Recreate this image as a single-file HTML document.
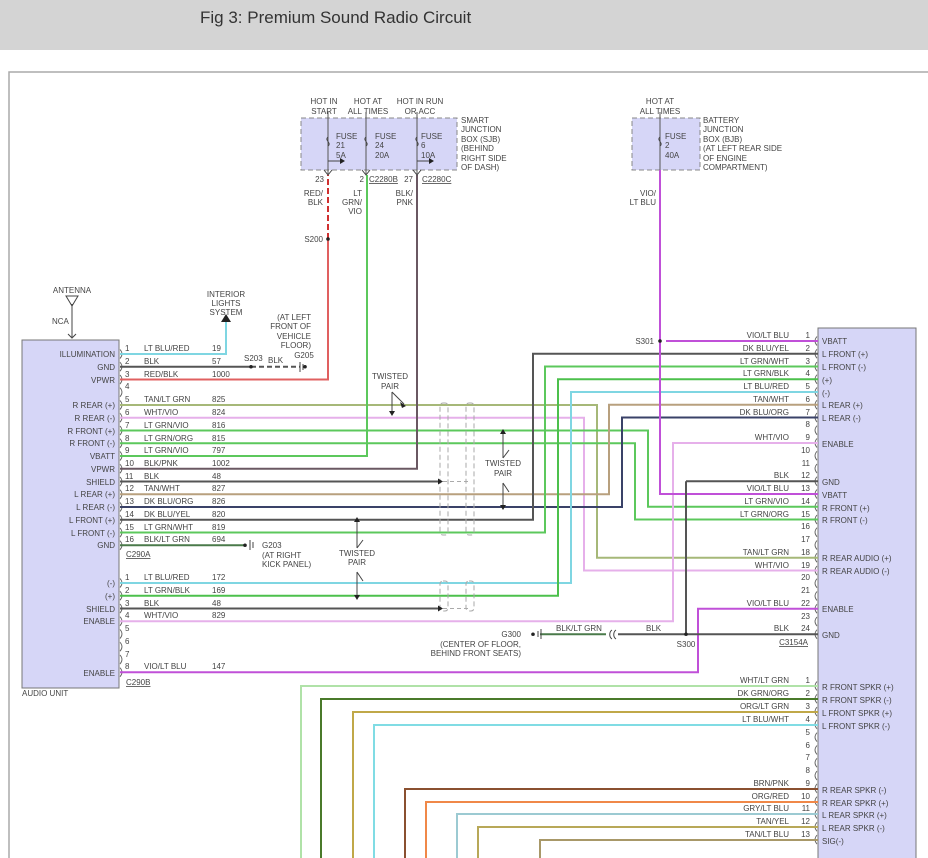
<!DOCTYPE html>
<html><head><meta charset="utf-8"><style>
html,body{margin:0;padding:0;background:#fff;}
body{width:928px;height:858px;overflow:hidden;position:relative;}
.hdr{position:absolute;left:0;top:0;width:928px;height:50px;background:#d4d4d4;}
.hdr span{position:absolute;left:200px;top:8px;font:17px "Liberation Sans",sans-serif;color:#333;}
svg{position:absolute;left:0;top:0;}
text{font-family:"Liberation Sans",sans-serif;font-size:8px;fill:#444;}
</style></head><body>
<div class="hdr"><span>Fig 3: Premium Sound Radio Circuit</span></div>
<svg width="928" height="858" viewBox="0 0 928 858">
<defs>
<pattern id="pl" patternUnits="userSpaceOnUse" x="119" y="348" width="6" height="12.75"><path d="M1,1.5q4,4.5 0,9" fill="none" stroke="#555" stroke-width="0.8"/></pattern>
<pattern id="pl2" patternUnits="userSpaceOnUse" x="119" y="577" width="6" height="12.75"><path d="M1,1.5q4,4.5 0,9" fill="none" stroke="#555" stroke-width="0.8"/></pattern>
<pattern id="pr" patternUnits="userSpaceOnUse" x="812" y="335" width="6" height="12.75"><path d="M5,1.5q-4,4.5 0,9" fill="none" stroke="#555" stroke-width="0.8"/></pattern>
<pattern id="pr2" patternUnits="userSpaceOnUse" x="812" y="680" width="6" height="12.8"><path d="M5,1.5q-4,4.5 0,9" fill="none" stroke="#555" stroke-width="0.8"/></pattern>
</defs>
<!-- frame -->
<path d="M9,858 V72 H928" fill="none" stroke="#aaa" stroke-width="1.5"/>
<!-- boxes -->
<rect x="22" y="340" width="97" height="348" fill="#d6d6f7" stroke="#777" stroke-width="1"/>
<rect x="818" y="328" width="98" height="540" fill="#d6d6f7" stroke="#777" stroke-width="1"/>
<rect x="301" y="118" width="156" height="52" fill="#d6d6f7" stroke="#888" stroke-dasharray="5,3"/>
<rect x="632" y="118" width="68" height="52" fill="#d6d6f7" stroke="#888" stroke-dasharray="5,3"/>
<rect x="119" y="348" width="6" height="204" fill="url(#pl)"/>
<rect x="119" y="577" width="6" height="102" fill="url(#pl2)"/>
<rect x="812" y="335" width="6" height="306" fill="url(#pr)"/>
<rect x="812" y="680" width="6" height="166" fill="url(#pr2)"/>

<g fill="none" stroke-width="2">
<path d="M120,354H226V322" stroke="#7fd6e2"/>
<path d="M120,366.75H251" stroke="#555"/>
<path d="M251,366.75H300" stroke="#555" stroke-dasharray="5,3"/>
<path d="M120,379.5H328V239" stroke="#e06060"/>
<path d="M328,239V175" stroke="#d03030" stroke-dasharray="6,3"/>
<path d="M120,405H597V557.75H818" stroke="#a6b878"/>
<path d="M120,417.75H584V570.5H818" stroke="#e6b0ea"/>
<path d="M120,430.5H648V506.75H818" stroke="#5cc85c"/>
<path d="M120,443.25H635V519.5H818" stroke="#5cc85c"/>
<path d="M120,456H367V175" stroke="#5cc85c"/>
<path d="M120,468.75H417V175" stroke="#6a5862"/>
<path d="M120,481.5H438" stroke="#555"/>
<path d="M120,494.25H609V404.75H818" stroke="#b8a07e"/>
<path d="M120,507H622V417.5H818" stroke="#3a4268"/>
<path d="M120,519.75H533V353.75H818" stroke="#555"/>
<path d="M120,532.5H545V366.5H818" stroke="#5cc85c"/>
<path d="M120,545.25H245" stroke="#4a7a4a"/>
<path d="M120,583H571V392H818" stroke="#7fd6e2"/>
<path d="M120,595.75H558V379.25H818" stroke="#4cc04c"/>
<path d="M120,608.5H438" stroke="#555"/>
<path d="M120,621.25H673V443H818" stroke="#e6b0ea"/>
<path d="M120,672.25H698V608.75H818" stroke="#c050d8"/>
<path d="M660,170V494H818" stroke="#c050d8"/>
<path d="M666,341H818" stroke="#c050d8"/>
<path d="M686,481.25H818M686,481.25V634.25H818M686,634.25H618" stroke="#555"/>
<path d="M606,634.25H540" stroke="#4a7a4a"/>
<path d="M301,858V686H818" stroke="#b0e2a8"/>
<path d="M321,858V699H818" stroke="#4a7a2a"/>
<path d="M353,858V712H818" stroke="#c0a848"/>
<path d="M374,858V725H818" stroke="#80dce4"/>
<path d="M405,858V789H818" stroke="#8a5030"/>
<path d="M426,858V802H818" stroke="#f08848"/>
<path d="M457,858V814H818" stroke="#9ccad2"/>
<path d="M478,858V827H818" stroke="#b8a858"/>
<path d="M540,858V840H818" stroke="#a89868"/>
<path d="M328,112V175M366,112V175M417,112V175M660,112V170" stroke="#555" stroke-width="1"/>
</g>
<g fill="none" stroke="#444" stroke-width="1">
<path d="M328,137c-4,3 4,6 0,9M366,137c-4,3 4,6 0,9M417,137c-4,3 4,6 0,9M660,137c-4,3 4,6 0,9"/>
<path d="M328,161H340M417,161H429"/>
<path d="M324,170l4,5l4,-5M362,170l4,5l4,-5M413,170l4,5l4,-5"/>
<path d="M72,304V337M68,334l4,4l4,-4"/>
<path d="M66,296H78L72,306Z"/>
<path d="M392,392V413M392,392l12,12M503,434V458M503,458l6,-8M503,483V505M503,483l6,9M357,522V548M357,548l6,-8M357,572V595M357,572l6,9"/>
<rect x="440" y="403" width="8" height="132" rx="3" stroke="#aaa" stroke-dasharray="5,3"/>
<rect x="466" y="403" width="8" height="132" rx="3" stroke="#aaa" stroke-dasharray="5,3"/>
<rect x="440" y="581" width="8" height="30" rx="3" stroke="#aaa" stroke-dasharray="5,3"/>
<rect x="466" y="581" width="8" height="30" rx="3" stroke="#aaa" stroke-dasharray="5,3"/>
<path d="M443,481.5H470M443,608.5H470" stroke="#aaa" stroke-dasharray="4,3"/>
<path d="M300,362V372M303,364V370M250,540V550M253,542V548M541,629V639M538,631V637"/>
<path d="M612,630c-3,2 -3,7 0,9M616,630c-3,2 -3,7 0,9"/>
</g>
<g fill="#222">
<polygon points="221,322 231,322 226,314"/>
<circle cx="328" cy="239" r="1.8"/><circle cx="251" cy="366.75" r="1.8"/><circle cx="660" cy="341" r="1.8"/><circle cx="686" cy="634.25" r="1.8"/>
<circle cx="305" cy="366.75" r="1.8"/><circle cx="245" cy="545.25" r="1.8"/><circle cx="533" cy="634.25" r="1.8"/>
<polygon points="340,158 345,161 340,164"/><polygon points="429,158 434,161 429,164"/>
<polygon points="438,478.5 443,481.5 438,484.5"/><polygon points="438,605.5 443,608.5 438,611.5"/>
<polygon points="389,411 395,411 392,416"/><polygon points="400,402 406,406 402,408"/>
<polygon points="500,434 506,434 503,429"/><polygon points="500,505 506,505 503,510"/>
<polygon points="354,522 360,522 357,517"/><polygon points="354,595 360,595 357,600"/>
</g>

<g>
<text x="72" y="293" text-anchor="middle">ANTENNA</text>
<text x="52" y="324">NCA</text>
<text x="226" y="297" text-anchor="middle">INTERIOR</text>
<text x="226" y="306" text-anchor="middle">LIGHTS</text>
<text x="226" y="315" text-anchor="middle">SYSTEM</text>
<text x="311" y="320" text-anchor="end">(AT LEFT</text>
<text x="311" y="329" text-anchor="end">FRONT OF</text>
<text x="311" y="339" text-anchor="end">VEHICLE</text>
<text x="311" y="348" text-anchor="end">FLOOR)</text>
<text x="304" y="358" text-anchor="middle">G205</text>
<text x="244" y="361">S203</text><text x="268" y="363">BLK</text>
<text x="324" y="104" text-anchor="middle">HOT IN</text><text x="324" y="114" text-anchor="middle">START</text>
<text x="368" y="104" text-anchor="middle">HOT AT</text><text x="368" y="114" text-anchor="middle">ALL TIMES</text>
<text x="420" y="104" text-anchor="middle">HOT IN RUN</text><text x="420" y="114" text-anchor="middle">OR ACC</text>
<text x="336" y="139">FUSE</text><text x="336" y="148">21</text><text x="336" y="158">5A</text>
<text x="375" y="139">FUSE</text><text x="375" y="148">24</text><text x="375" y="158">20A</text>
<text x="421" y="139">FUSE</text><text x="421" y="148">6</text><text x="421" y="158">10A</text>
<text x="461" y="123">SMART</text><text x="461" y="132">JUNCTION</text><text x="461" y="142">BOX (SJB)</text><text x="461" y="151">(BEHIND</text><text x="461" y="161">RIGHT SIDE</text><text x="461" y="170">OF DASH)</text>
<text x="324" y="182" text-anchor="end">23</text><text x="364" y="182" text-anchor="end">2</text><text x="369" y="182" text-decoration="underline">C2280B</text>
<text x="413" y="182" text-anchor="end">27</text><text x="422" y="182" text-decoration="underline">C2280C</text>
<text x="323" y="196" text-anchor="end">RED/</text><text x="323" y="205" text-anchor="end">BLK</text>
<text x="362" y="196" text-anchor="end">LT</text><text x="362" y="205" text-anchor="end">GRN/</text><text x="362" y="214" text-anchor="end">VIO</text>
<text x="413" y="196" text-anchor="end">BLK/</text><text x="413" y="205" text-anchor="end">PNK</text>
<text x="323" y="242" text-anchor="end">S200</text>
<text x="660" y="104" text-anchor="middle">HOT AT</text><text x="660" y="114" text-anchor="middle">ALL TIMES</text>
<text x="665" y="139">FUSE</text><text x="665" y="148">2</text><text x="665" y="158">40A</text>
<text x="703" y="123">BATTERY</text><text x="703" y="132">JUNCTION</text><text x="703" y="142">BOX (BJB)</text><text x="703" y="151">(AT LEFT REAR SIDE</text><text x="703" y="161">OF ENGINE</text><text x="703" y="170">COMPARTMENT)</text>
<text x="656" y="196" text-anchor="end">VIO/</text><text x="656" y="205" text-anchor="end">LT BLU</text>
<text x="654" y="344" text-anchor="end">S301</text>
<text x="390" y="379" text-anchor="middle">TWISTED</text><text x="390" y="389" text-anchor="middle">PAIR</text>
<text x="503" y="466" text-anchor="middle">TWISTED</text><text x="503" y="476" text-anchor="middle">PAIR</text>
<text x="357" y="556" text-anchor="middle">TWISTED</text><text x="357" y="565" text-anchor="middle">PAIR</text>
<text x="262" y="548">G203</text><text x="262" y="558">(AT RIGHT</text><text x="262" y="567">KICK PANEL)</text>
<text x="521" y="637" text-anchor="end">G300</text>
<text x="521" y="647" text-anchor="end">(CENTER OF FLOOR,</text><text x="521" y="656" text-anchor="end">BEHIND FRONT SEATS)</text>
<text x="556" y="631">BLK/LT GRN</text><text x="646" y="631">BLK</text><text x="686" y="647" text-anchor="middle">S300</text>
</g>
<g text-anchor="end">
<text x="115" y="357">ILLUMINATION</text><text x="115" y="370">GND</text><text x="115" y="383">VPWR</text>
<text x="115" y="408">R REAR (+)</text><text x="115" y="421">R REAR (-)</text><text x="115" y="434">R FRONT (+)</text><text x="115" y="446">R FRONT (-)</text>
<text x="115" y="459">VBATT</text><text x="115" y="472">VPWR</text><text x="115" y="485">SHIELD</text><text x="115" y="497">L REAR (+)</text>
<text x="115" y="510">L REAR (-)</text><text x="115" y="523">L FRONT (+)</text><text x="115" y="536">L FRONT (-)</text><text x="115" y="548">GND</text>
<text x="115" y="586">(-)</text><text x="115" y="599">(+)</text><text x="115" y="612">SHIELD</text><text x="115" y="624">ENABLE</text><text x="115" y="676">ENABLE</text>
</g>
<g>
<text x="125" y="351">1</text><text x="144" y="351">LT BLU/RED</text><text x="212" y="351">19</text>
<text x="125" y="364">2</text><text x="144" y="364">BLK</text><text x="212" y="364">57</text>
<text x="125" y="377">3</text><text x="144" y="377">RED/BLK</text><text x="212" y="377">1000</text>
<text x="125" y="389">4</text>
<text x="125" y="402">5</text><text x="144" y="402">TAN/LT GRN</text><text x="212" y="402">825</text>
<text x="125" y="415">6</text><text x="144" y="415">WHT/VIO</text><text x="212" y="415">824</text>
<text x="125" y="428">7</text><text x="144" y="428">LT GRN/VIO</text><text x="212" y="428">816</text>
<text x="125" y="441">8</text><text x="144" y="441">LT GRN/ORG</text><text x="212" y="441">815</text>
<text x="125" y="453">9</text><text x="144" y="453">LT GRN/VIO</text><text x="212" y="453">797</text>
<text x="125" y="466">10</text><text x="144" y="466">BLK/PNK</text><text x="212" y="466">1002</text>
<text x="125" y="479">11</text><text x="144" y="479">BLK</text><text x="212" y="479">48</text>
<text x="125" y="491">12</text><text x="144" y="491">TAN/WHT</text><text x="212" y="491">827</text>
<text x="125" y="504">13</text><text x="144" y="504">DK BLU/ORG</text><text x="212" y="504">826</text>
<text x="125" y="517">14</text><text x="144" y="517">DK BLU/YEL</text><text x="212" y="517">820</text>
<text x="125" y="530">15</text><text x="144" y="530">LT GRN/WHT</text><text x="212" y="530">819</text>
<text x="125" y="542">16</text><text x="144" y="542">BLK/LT GRN</text><text x="212" y="542">694</text>
<text x="126" y="557" text-decoration="underline">C290A</text>
<text x="125" y="580">1</text><text x="144" y="580">LT BLU/RED</text><text x="212" y="580">172</text>
<text x="125" y="593">2</text><text x="144" y="593">LT GRN/BLK</text><text x="212" y="593">169</text>
<text x="125" y="606">3</text><text x="144" y="606">BLK</text><text x="212" y="606">48</text>
<text x="125" y="618">4</text><text x="144" y="618">WHT/VIO</text><text x="212" y="618">829</text>
<text x="125" y="631">5</text><text x="125" y="644">6</text><text x="125" y="657">7</text>
<text x="125" y="669">8</text><text x="144" y="669">VIO/LT BLU</text><text x="212" y="669">147</text>
<text x="126" y="685" text-decoration="underline">C290B</text>
<text x="22" y="696">AUDIO UNIT</text>
</g>
<g text-anchor="end">
<text x="810" y="338">1</text><text x="789" y="338">VIO/LT BLU</text>
<text x="810" y="351">2</text><text x="789" y="351">DK BLU/YEL</text>
<text x="810" y="364">3</text><text x="789" y="364">LT GRN/WHT</text>
<text x="810" y="376">4</text><text x="789" y="376">LT GRN/BLK</text>
<text x="810" y="389">5</text><text x="789" y="389">LT BLU/RED</text>
<text x="810" y="402">6</text><text x="789" y="402">TAN/WHT</text>
<text x="810" y="415">7</text><text x="789" y="415">DK BLU/ORG</text>
<text x="810" y="427">8</text>
<text x="810" y="440">9</text><text x="789" y="440">WHT/VIO</text>
<text x="810" y="453">10</text><text x="810" y="466">11</text>
<text x="810" y="478">12</text><text x="789" y="478">BLK</text>
<text x="810" y="491">13</text><text x="789" y="491">VIO/LT BLU</text>
<text x="810" y="504">14</text><text x="789" y="504">LT GRN/VIO</text>
<text x="810" y="517">15</text><text x="789" y="517">LT GRN/ORG</text>
<text x="810" y="529">16</text><text x="810" y="542">17</text>
<text x="810" y="555">18</text><text x="789" y="555">TAN/LT GRN</text>
<text x="810" y="568">19</text><text x="789" y="568">WHT/VIO</text>
<text x="810" y="580">20</text><text x="810" y="593">21</text>
<text x="810" y="606">22</text><text x="789" y="606">VIO/LT BLU</text>
<text x="810" y="619">23</text>
<text x="810" y="631">24</text><text x="789" y="631">BLK</text>
<text x="808" y="645" text-decoration="underline">C3154A</text>
<text x="810" y="683">1</text><text x="789" y="683">WHT/LT GRN</text>
<text x="810" y="696">2</text><text x="789" y="696">DK GRN/ORG</text>
<text x="810" y="709">3</text><text x="789" y="709">ORG/LT GRN</text>
<text x="810" y="722">4</text><text x="789" y="722">LT BLU/WHT</text>
<text x="810" y="735">5</text><text x="810" y="748">6</text><text x="810" y="760">7</text><text x="810" y="773">8</text>
<text x="810" y="786">9</text><text x="789" y="786">BRN/PNK</text>
<text x="810" y="799">10</text><text x="789" y="799">ORG/RED</text>
<text x="810" y="811">11</text><text x="789" y="811">GRY/LT BLU</text>
<text x="810" y="824">12</text><text x="789" y="824">TAN/YEL</text>
<text x="810" y="837">13</text><text x="789" y="837">TAN/LT BLU</text>
</g>
<g>
<text x="822" y="344">VBATT</text><text x="822" y="357">L FRONT (+)</text><text x="822" y="370">L FRONT (-)</text>
<text x="822" y="383">(+)</text><text x="822" y="396">(-)</text><text x="822" y="408">L REAR (+)</text><text x="822" y="421">L REAR (-)</text>
<text x="822" y="447">ENABLE</text><text x="822" y="485">GND</text><text x="822" y="498">VBATT</text>
<text x="822" y="511">R FRONT (+)</text><text x="822" y="523">R FRONT (-)</text>
<text x="822" y="561">R REAR AUDIO (+)</text><text x="822" y="574">R REAR AUDIO (-)</text>
<text x="822" y="612">ENABLE</text><text x="822" y="638">GND</text>
<text x="822" y="690">R FRONT SPKR (+)</text><text x="822" y="703">R FRONT SPKR (-)</text>
<text x="822" y="716">L FRONT SPKR (+)</text><text x="822" y="729">L FRONT SPKR (-)</text>
<text x="822" y="793">R REAR SPKR (-)</text><text x="822" y="806">R REAR SPKR (+)</text>
<text x="822" y="818">L REAR SPKR (+)</text><text x="822" y="831">L REAR SPKR (-)</text><text x="822" y="844">SIG(-)</text>
</g>
</svg>
</body></html>
